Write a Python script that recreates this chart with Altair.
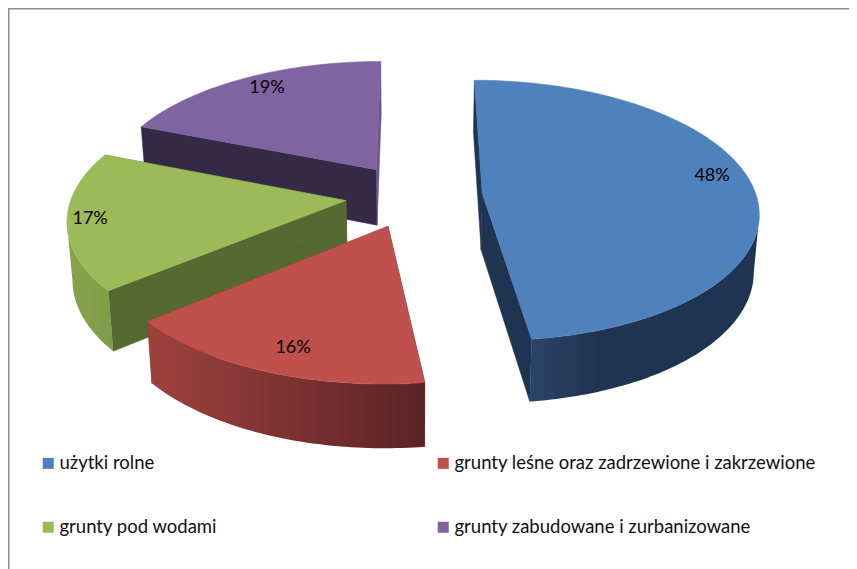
import math
import altair as alt
import pandas as pd

categories = ["użytki rolne", "grunty leśne oraz zadrzewione i zakrzewione",
              "grunty pod wodami", "grunty zabudowane i zurbanizowane"]
values = [48, 16, 17, 19]
labels = ["48%", "16%", "17%", "19%"]
top_colors = ["#4F81BD", "#C0504D", "#9BBB59", "#8064A2"]
start_wall = ["#1F3450", "#5A2423", "#556930", "#352A45"]
end_wall = ["#1F3450", "#7A3230", "#556930", "#6B5488"]
outer_stops = [
    [(0.0, "#2B4468"), (0.3, "#1F3450"), (1.0, "#1F3450")],
    [(0.0, "#9E413F"), (1.0, "#5A2423")],
    [(0.0, "#86A34E"), (1.0, "#809C49")],
    [(0.0, "#6B5488"), (1.0, "#6B5488")],
]
label_radius = [0.87, 0.843, 0.922, 0.875]
label_turn = [-6.1, -1.2, 0.8, 2.0]

W, H = 841, 561
CX, CY, A, B, K = 414.0, 195.5, 274.0, 128.5, 0.13
EXPLODE = 0.25
PAINT_ORDER = [3, 2, 1, 0]

xs = alt.Scale(domain=[8, 8 + W])
ys = alt.Scale(domain=[8, 8 + H], reverse=True)


def project(px, py):
    w = 1 + K * py
    return CX + A * px / w, CY - B * py / w


def lower(pt):
    x, y = pt
    return CX + (x - CX) * 0.984, y + 52 + 0.04 * (y - 80)


def poly_rows(points, color, pid):
    return [{"poly": pid, "i": i, "x": x, "y": y, "c": color}
            for i, (x, y) in enumerate(points)]


def base(frame, **mark):
    return alt.Chart(frame).mark_line(interpolate="linear-closed", **mark)


pos = dict(
    x=alt.X("x:Q", scale=xs, axis=None),
    y=alt.Y("y:Q", scale=ys, axis=None),
    order="i:Q",
)

total = sum(values)
spans = []
acc = 0.0
for v in values:
    spans.append((acc / total * 360, (acc + v) / total * 360))
    acc += v

layers = []
text_rows = []
for s in PAINT_ORDER:
    t0, t1 = spans[s]
    mid = math.radians((t0 + t1) / 2)
    ex, ey = EXPLODE * math.sin(mid), EXPLODE * math.cos(mid)

    def rim(deg, r=1.0):
        a = math.radians(deg)
        return project(ex + r * math.sin(a), ey + r * math.cos(a))

    apex = project(ex, ey)
    n = max(8, int(t1 - t0))
    arc = [rim(t0 + (t1 - t0) * j / n) for j in range(n + 1)]

    rows = poly_rows([apex, arc[0], lower(arc[0]), lower(apex)], start_wall[s], 0)
    rows += poly_rows([apex, arc[-1], lower(arc[-1]), lower(apex)], end_wall[s], 1)
    layers.append(
        base(pd.DataFrame(rows), strokeWidth=0.5).encode(
            detail="poly:N", fill=alt.Fill("c:N", scale=None),
            stroke=alt.Stroke("c:N", scale=None), **pos)
    )
    # outer wall: only the part of the rim that faces the viewer
    front = [j for j in range(n) if arc[j + 1][0] < arc[j][0]]
    if front:
        part = arc[front[0]:front[-1] + 2]
        wall = part + [lower(p) for p in reversed(part)]
        grad = alt.Gradient(
            gradient="linear", x1=0, x2=1, y1=0, y2=0,
            stops=[alt.GradientStop(offset=o, color=c) for o, c in outer_stops[s]],
        )
        layers.append(base(pd.DataFrame(poly_rows(wall, "", 0)), fill=grad, strokeWidth=0).encode(**pos))
    # top face
    layers.append(
        base(pd.DataFrame(poly_rows([apex] + arc, top_colors[s], 0)),
             fill=top_colors[s], stroke=top_colors[s], strokeWidth=0.5).encode(**pos)
    )
    lx, ly = rim((t0 + t1) / 2 + label_turn[s], label_radius[s])
    text_rows.append({"x": lx, "y": ly, "t": labels[s]})

texts = alt.Chart(pd.DataFrame(text_rows)).mark_text(
    font="Lato", fontSize=18, color="#000000", align="center", baseline="middle", dy=1, dx=1
).encode(
    x=alt.X("x:Q", scale=xs, axis=None),
    y=alt.Y("y:Q", scale=ys, axis=None),
    text="t:N",
)

legend_src = alt.Chart(pd.DataFrame({"cat": categories})).mark_point(
    size=0, filled=True
).encode(
    color=alt.Color(
        "cat:N",
        scale=alt.Scale(domain=categories, range=top_colors),
        legend=alt.Legend(
            title=None, orient="none", legendX=31, legendY=446, columns=2,
            direction="horizontal", symbolType="square", symbolSize=121,
            symbolStrokeWidth=0, symbolOpacity=1, labelFont="Lato", labelFontSize=18.5,
            labelColor="#111111", labelOffset=2, columnPadding=216, rowPadding=45,
            labelLimit=500, padding=0,
        ),
    )
)

frame_left = alt.Chart(pd.DataFrame({"a": [0]})).mark_rule(color="#8C8C8C", strokeWidth=1.5).encode(
    x=alt.value(0.75), y=alt.value(0), y2=alt.value(H)
)
frame_top = alt.Chart(pd.DataFrame({"a": [0]})).mark_rule(color="#8C8C8C", strokeWidth=1.5).encode(
    y=alt.value(0.75), x=alt.value(0), x2=alt.value(W)
)

chart = alt.layer(frame_left, frame_top, *layers, texts, legend_src).properties(
    width=W, height=H, padding=0, background="white",
    autosize=alt.AutoSizeParams(type="none"),
).configure_view(stroke=None)

chart.save("out.html", embed_options={"renderer": "svg", "actions": False})
